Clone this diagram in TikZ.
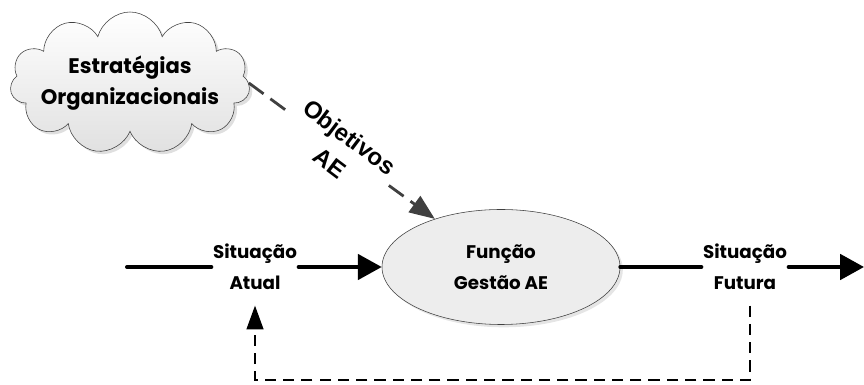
\documentclass[tikz,border=0pt]{standalone}
\usepackage{fontspec}
\setmainfont{Poppins}
\newfontfamily\arialfont{Liberation Sans}
\usetikzlibrary{arrows.meta,shapes.symbols,shapes.geometric,shadows,calc}
\definecolor{dg}{HTML}{404040}
\tikzset{
    txt/.style =    {align=center,
                    font=\bfseries\fontsize{13}{22}\selectfont,
                    text=black,
                    inner xsep=1pt,
                    inner ysep=11pt},
    tag/.style =    {align=center,
                    font=\arialfont\bfseries\fontsize{17}{23}\selectfont,
                    text=black,
                    rotate=-37,
                    inner xsep=4pt,
                    inner ysep=1pt},
    cloudbox/.style = {cloud,
                    cloud puffs=11,
                    cloud ignores aspect,
                    align=center,
                    font=\bfseries\fontsize{15}{22}\selectfont,
                    inner xsep=-0.55cm,
                    inner ysep=0pt,
                    draw=dg,
                    thin,
                    top color=white,
                    bottom color=black!12,
                    drop shadow={shadow xshift=2pt,shadow yshift=-2pt,fill=black!25},
                    minimum width=6cm,
                    minimum height=3.55cm},
    func/.style =   {ellipse,
                    align=center,
                    font=\bfseries\fontsize{13}{22}\selectfont,
                    draw=dg,
                    thin,
                    fill=black!7,
                    drop shadow={shadow xshift=2pt,shadow yshift=-2pt,fill=black!20},
                    minimum width=5.95cm,
                    minimum height=2.875cm},
    flow/.style =   {line width=2.8pt,
                    draw=black,
                    line cap=round},
    feedback/.style = {line width=1.4pt,
                    draw=black,
                    dash pattern=on 8pt off 5pt},
    goal/.style =   {line width=2pt,
                    draw=dg,
                    dash pattern=on 13pt off 6pt},
    >={Triangle[length=17pt,width=18pt]}}

\begin{document}
\begin{tikzpicture}
            \useasboundingbox (0,0) rectangle (21.6,9.625);

            \node[cloudbox]   (strat)  at (3.25,7.55)   {Estratégias\\Organizacionais};
            \node[func]       (func)   at (12.525,2.95) {Função\\Gestão AE};
            \node[txt]        (atual)  at (6.375,2.95)  {Situação\\Atual};
            \node[txt]        (futura) at (18.625,2.95) {Situação\\Futura};
            \node[tag]        (obj)    at (8.5,5.875)   {Objetivos\\AE};

            \coordinate (in)   at (3.175,2.95);
            \coordinate (out)  at (21.6,2.95);
            \coordinate (back) at (18.75,0.13);

            \draw[flow]     (in) -- (atual);
            \draw[flow,->]  (atual) -- (func);
            \draw[flow]     (func) -- (futura);
            \draw[flow,->]  (futura) -- (out);

            \draw[goal]     (strat.east) -- (obj);
            \draw[goal,-{Triangle[length=18pt,width=14pt]}] (obj) -- (func);

            \draw[feedback,-{Triangle[length=17pt,width=12pt]}] (futura.south -| back) -- (back) -| (atual.south);
        \end{tikzpicture}
\end{document}
